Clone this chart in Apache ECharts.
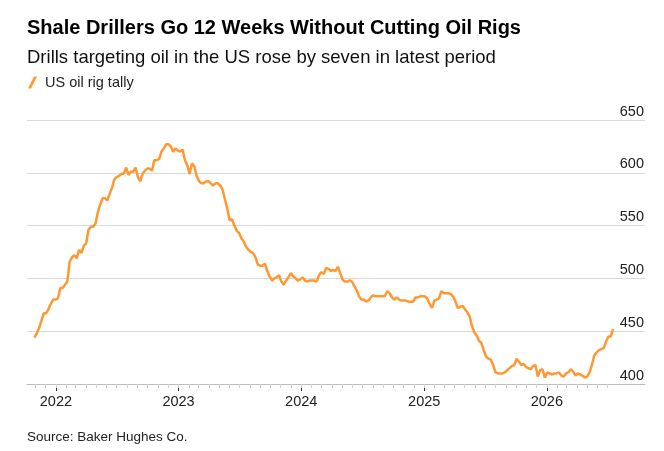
<!DOCTYPE html>
<html lang="en">
<head>
<meta charset="utf-8">
<script src="https://cdn.jsdelivr.net/npm/echarts@6/dist/echarts.min.js"></script>
<style>
  html, body { margin: 0; padding: 0; background: #fff; }
  #main { width: 664px; height: 451px; }
</style>
</head>
<body>
<div id="main"></div>
<script type="text/javascript">
// weekly Baker Hughes oil rig count, first reading on startDate
var startDate = '2021-10-29';
var rigCounts = [
    444, 448, 453, 460, 467, 467, 471, 476, 480, 480,
    481, 491, 491, 494, 497, 516, 520, 522, 519, 527,
    524, 531, 533, 546, 549, 549, 552, 563, 570, 576,
    576, 574, 580, 586, 594, 596, 597, 599, 599, 605,
    598, 601, 601, 605, 596, 592, 599, 602, 604, 604,
    602, 612, 612, 613, 620, 623, 627, 627, 625, 620,
    623, 621, 620, 622, 612, 607, 599, 609, 606, 597,
    592, 590, 590, 592, 592, 590, 588, 590, 590, 588,
    584, 575, 566, 555, 556, 550, 545, 543, 538, 535,
    530, 527, 525, 524, 520, 513, 512, 512, 514, 507,
    502, 498, 500, 501, 503, 497, 494, 498, 501, 505,
    502, 500, 498, 499, 501, 498, 497, 498, 498, 498,
    497, 503, 506, 504, 510, 509, 507, 508, 507, 511,
    505, 499, 497, 497, 498, 497, 493, 489, 483, 480,
    480, 478, 479, 482, 484, 483, 483, 483, 483, 483,
    488, 486, 482, 480, 482, 480, 479, 479, 479, 478,
    478, 478, 482, 482, 483, 483, 483, 481, 476, 472,
    479, 480, 481, 488, 486, 486, 486, 485, 483, 478,
    472, 473, 474, 471, 468, 464, 455, 449, 446, 441,
    439, 432, 426, 424, 423, 418, 411, 410, 410, 410,
    411, 413, 415, 417, 418, 424, 421, 418, 419, 416,
    415, 414, 417, 418, 407, 413, 414, 406, 411, 410,
    409, 410, 410, 411, 408, 407, 410, 411, 414, 412,
    408, 410, 409, 408, 406, 407, 411, 418, 427, 430,
    432, 433, 434, 440, 445, 445, 452
];
var yearTicks = ['2022-01-01', '2023-01-01', '2024-01-01', '2025-01-01', '2026-01-01'];
var axisStart = '2021-10-07';
var axisEnd = '2026-10-20';
var monthTickStart = '2021-10-01';
var monthTickEnd = '2026-07-01';
var yMin = 400, yMax = 650, yStep = 50;

var DAY = 86400000;
var font = 'Liberation Sans, Arial, sans-serif';

function ms(s) { return new Date(s + 'T00:00:00Z').getTime(); }

var t0 = ms(startDate);
var seriesData = [];
for (var i = 0; i < rigCounts.length; i++) {
    seriesData.push([t0 + i * 7 * DAY, rigCounts[i]]);
}

var yearTickMs = yearTicks.map(ms);

// month starts for the small ticks
var monthTickMs = [];
var d = new Date(ms(monthTickStart));
var dEnd = ms(monthTickEnd);
while (d.getTime() <= dEnd) {
    if (d.getTime() >= ms(axisStart)) monthTickMs.push(d.getTime());
    d = new Date(Date.UTC(d.getUTCFullYear(), d.getUTCMonth() + 1, 1));
}

var myChart = echarts.init(document.getElementById('main'), null, { renderer: 'canvas' });

myChart.setOption({
    animation: false,
    backgroundColor: '#fff',
    title: [{
        text: 'Shale Drillers Go 12 Weeks Without Cutting Oil Rigs',
        left: 27, top: 18, padding: 0,
        textStyle: { fontFamily: font, fontSize: 20, fontWeight: 'bold', color: '#000' }
    }, {
        text: 'Drills targeting oil in the US rose by seven in latest period',
        left: 27, top: 48, padding: 0,
        textStyle: { fontFamily: font, fontSize: 18.5, fontWeight: 'normal', color: '#111' }
    }, {
        text: 'Source: Baker Hughes Co.',
        left: 27, top: 430, padding: 0,
        textStyle: { fontFamily: font, fontSize: 13.5, fontWeight: 'normal', color: '#222' }
    }],
    legend: {
        left: 28, top: 75, padding: 0,
        itemWidth: 9, itemHeight: 12,
        data: [{ name: 'US oil rig tally', icon: 'path://M0,12L6,0L9,0L3,12Z' }],
        textStyle: { fontFamily: font, fontSize: 14.5, color: '#222', padding: [0, 0, 0, 3] }
    },
    grid: { left: 27, right: 19, top: 120, bottom: 67 },
    xAxis: [{
        type: 'value',
        min: ms(axisStart), max: ms(axisEnd),
        axisLine: { lineStyle: { color: '#bdbdbd', width: 1 } },
        axisTick: { customValues: yearTickMs, length: 7, lineStyle: { color: '#333', width: 1 } },
        axisLabel: {
            customValues: yearTickMs,
            margin: 10,
            fontFamily: font, fontSize: 14.5, color: '#222',
            formatter: function (v) { return String(new Date(v).getUTCFullYear()); }
        },
        splitLine: { show: false }
    }, {
        type: 'value',
        min: ms(axisStart), max: ms(axisEnd),
        position: 'bottom',
        axisLine: { show: false },
        axisTick: { customValues: monthTickMs, length: 4, lineStyle: { color: '#cfcfcf', width: 1 } },
        axisLabel: { show: false },
        splitLine: { show: false }
    }],
    yAxis: {
        type: 'value',
        position: 'right',
        min: yMin, max: yMax, interval: yStep,
        axisLine: { show: false },
        axisTick: { show: false },
        splitLine: { lineStyle: { color: '#dadada', width: 1 } },
        axisLabel: {
            inside: true,
            margin: 1,
            verticalAlign: 'bottom',
            padding: [0, 0, 1, 0],
            fontFamily: font, fontSize: 14.5, color: '#222'
        }
    },
    series: [{
        name: 'US oil rig tally',
        type: 'line',
        xAxisIndex: 0,
        data: seriesData,
        showSymbol: false,
        symbol: 'none',
        color: '#ff9833',
        lineStyle: { color: '#ff9833', width: 2.5 }
    }]
});
</script>
</body>
</html>
